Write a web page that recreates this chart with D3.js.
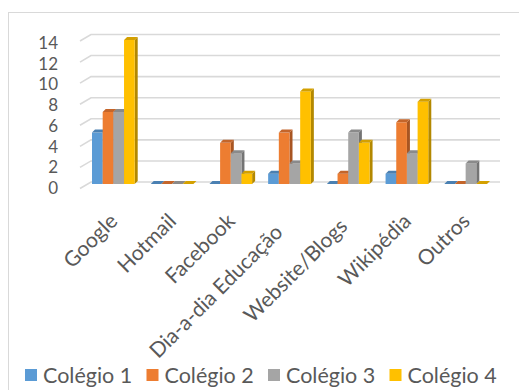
<!DOCTYPE html>
<html>
<head>
<meta charset="utf-8">
<script src="https://cdn.jsdelivr.net/npm/d3@7"></script>
<style>
  body { margin: 0; background: #fff; }
  text { font-family: Lato, "Open Sans", sans-serif; fill: #595959; }
</style>
</head>
<body>
<div id="chart"></div>
<script>
// data
const categories = ["Google", "Hotmail", "Facebook", "Dia-a-dia Educação", "Website/Blogs", "Wikipédia", "Outros"];
const seriesNames = ["Colégio 1", "Colégio 2", "Colégio 3", "Colégio 4"];
const colegio1 = [5, 0, 0, 1, 0, 1, 0];
const colegio2 = [7, 0, 4, 5, 1, 6, 0];
const colegio3 = [7, 0, 3, 2, 5, 3, 2];
const colegio4 = [14, 0, 1, 9, 4, 8, 0];
const yTicks = [0, 2, 4, 6, 8, 10, 12, 14];

const colors = ["#5B9BD5", "#ED7D31", "#A5A5A5", "#FFC000"];
const topColors = ["#4A80B2", "#C4652A", "#8A8A8A", "#D4A000"];
const sideColors = ["#3E6D98", "#A85522", "#747474", "#B38800"];

const allSeries = [colegio1, colegio2, colegio3, colegio4];

var width = 519, height = 390;
var depth = 3;           // bar depth offset
var wallDx = 11, wallDy = 6.5;

var svg = d3.select("#chart")
  .append("svg")
    .attr("width", width)
    .attr("height", height);

// chart border
svg.append("rect")
    .attr("x", 8.5)
    .attr("y", 12.5)
    .attr("width", 530)
    .attr("height", 400)
    .attr("fill", "none")
    .attr("stroke", "#D9D9D9")
    .attr("stroke-width", 1);

var x0 = d3.scaleBand()
    .domain(categories)
    .range([84, 495]);

var groupW = 42.7;
var x1 = d3.scaleBand()
    .domain(seriesNames)
    .range([0, groupW]);
var groupOff = (x0.bandwidth() - groupW) / 2;

var yFront = d3.scaleLinear().domain([0, 14]).range([184, 40]);
var yBack = d3.scaleLinear().domain([0, 14]).range([182, 34.5]);
var yLabel = d3.scaleLinear().domain([0, 14]).range([187.5, 42.5]);

// gridlines on the back wall
var grid = svg.append("g");
yTicks.forEach(function(v) {
  var yb = yBack(v);
  grid.append("path")
    .attr("d", "M80," + (yb + wallDy) + "L" + (80 + wallDx) + "," + yb + "L500," + yb)
    .attr("fill", "none")
    .attr("stroke", "#D9D9D9")
    .attr("stroke-width", 1.6);
});

// y tick labels
svg.append("g")
  .selectAll("text")
  .data(yTicks)
  .enter()
  .append("text")
    .attr("x", 58)
    .attr("y", function(d) { return yLabel(d); })
    .attr("text-anchor", "end")
    .attr("dominant-baseline", "central")
    .style("font-size", "17px")
    .text(function(d) { return d; });

// bars
var rows = [];
categories.forEach(function(c, i) {
  seriesNames.forEach(function(s, j) {
    rows.push({cat: c, ser: s, j: j, value: allSeries[j][i]});
  });
});

var bars = svg.append("g")
  .selectAll("g")
  .data(rows)
  .enter()
  .append("g");

bars.each(function(d) {
  var g = d3.select(this);
  var xl = x0(d.cat) + groupOff + x1(d.ser);
  var xr = xl + x1.bandwidth();
  var yt = yFront(d.value);
  var yb = yFront(0);
  // right side face
  g.append("path")
    .attr("d", "M" + xr + "," + yt + "L" + (xr + depth) + "," + (yt - depth) +
               "L" + (xr + depth) + "," + (yb - depth) + "L" + xr + "," + yb + "Z")
    .attr("fill", sideColors[d.j]);
  // front face
  g.append("rect")
    .attr("x", xl)
    .attr("y", yt)
    .attr("width", x1.bandwidth())
    .attr("height", yb - yt)
    .attr("fill", colors[d.j]);
  // top face
  g.append("path")
    .attr("d", "M" + xl + "," + yt + "L" + (xl + depth) + "," + (yt - depth) +
               "L" + (xr + depth) + "," + (yt - depth) + "L" + xr + "," + yt + "Z")
    .attr("fill", topColors[d.j]);
});

// category labels, rotated; long labels slide down along their direction like Excel does
var catLabels = svg.append("g")
  .selectAll("text")
  .data(categories)
  .enter()
  .append("text")
    .attr("text-anchor", "end")
    .style("font-size", "21px")
    .text(function(d) { return d; });

catLabels.attr("transform", function(d) {
  var len = this.getComputedTextLength();
  var slide = 0.142 * Math.max(0, len - 100);
  var cx = x0(d) + x0.bandwidth() / 2 + 5.5 - slide;
  return "translate(" + cx + "," + (222.5 + slide) + ") rotate(-45)";
});

// legend
var legend = svg.append("g")
  .selectAll("g")
  .data(seriesNames)
  .enter()
  .append("g")
    .attr("transform", function(d, i) { return "translate(" + (25 + i * 121.5) + ",369)"; });

legend.append("rect")
    .attr("width", 12)
    .attr("height", 12)
    .attr("fill", function(d, i) { return colors[i]; });

legend.append("text")
    .attr("x", 18)
    .attr("y", 6)
    .attr("dominant-baseline", "central")
    .style("font-size", "21.5px")
    .text(function(d) { return d; });
</script>
</body>
</html>
